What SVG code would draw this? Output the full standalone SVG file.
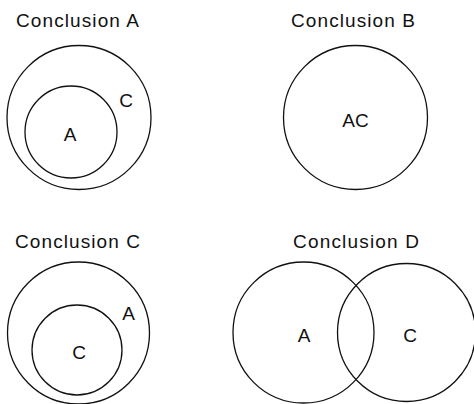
<svg xmlns="http://www.w3.org/2000/svg" width="474" height="404" viewBox="0 0 474 404">
<style>
.c{fill:none;stroke:#111;stroke-width:1.3}
.t{font-family:"Liberation Sans",Arial,sans-serif;font-size:19px;fill:#111}
.m{text-anchor:middle}
</style>
<rect width="474" height="404" fill="#fff"/>
<g id="conclusionA">
<text class="t" x="16" y="27" textLength="123" lengthAdjust="spacing">Conclusion A</text>
<circle class="c" cx="79" cy="117.5" r="72"/>
<circle class="c" cx="71" cy="132" r="46"/>
<text class="t m" x="126" y="107">C</text>
<text class="t m" x="70" y="141">A</text>
</g>
<g id="conclusionB">
<text class="t" x="291" y="27" textLength="124" lengthAdjust="spacing">Conclusion B</text>
<circle class="c" cx="355.5" cy="117.5" r="72"/>
<text class="t m" x="355.5" y="127">AC</text>
</g>
<g id="conclusionC">
<text class="t" x="15" y="247.5" textLength="125" lengthAdjust="spacing">Conclusion C</text>
<circle class="c" cx="78.5" cy="333" r="71"/>
<circle class="c" cx="77" cy="350" r="45"/>
<text class="t m" x="128.5" y="320">A</text>
<text class="t m" x="79" y="359">C</text>
</g>
<g id="conclusionD">
<text class="t" x="293" y="247.5" textLength="126" lengthAdjust="spacing">Conclusion D</text>
<circle class="c" cx="303.5" cy="332.5" r="70.5"/>
<circle class="c" cx="406.5" cy="332.5" r="69"/>
<text class="t m" x="304" y="342">A</text>
<text class="t m" x="410" y="342">C</text>
</g>
<g id="connectors"/>
</svg>
